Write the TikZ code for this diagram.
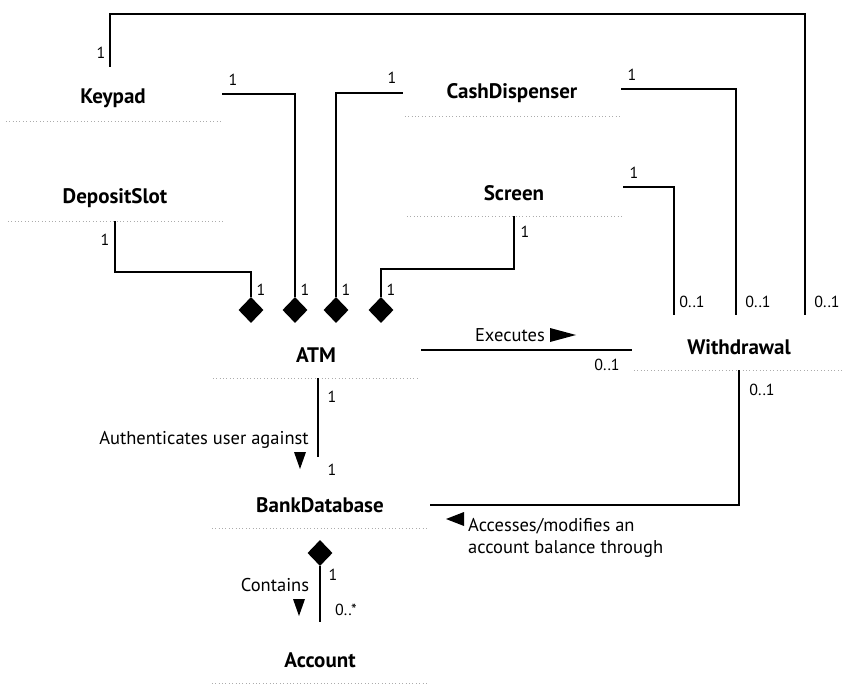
\documentclass[tikz,border=0pt]{standalone}
\usepackage{fontspec}
\setmainfont{PT Sans}
\usetikzlibrary{shapes.geometric,calc}
\begin{document}
\begin{tikzpicture}[x=1pt,y=-1pt,
  classbox/.style={minimum width=218pt, minimum height=46pt, inner sep=0pt,
    font=\fontsize{21}{24}\selectfont\bfseries},
  conn/.style={line width=2.4pt},
  mult/.style={font=\fontsize{16}{18}\selectfont, inner sep=1pt},
  assoc/.style={font=\fontsize{18.5}{22}\selectfont, inner sep=1pt},
  compo/.style={diamond, fill=black, minimum width=25pt, minimum height=26pt, inner sep=0pt},
  boxedge/.style={gray!65, line width=0.8pt, dash pattern=on 0.8pt off 2.6pt},
  navtip/.style={fill=black},
]
\useasboundingbox (0,0) rectangle (844,698);

% class boxes (name compartment only; bottom edge drawn faintly)
\node[classbox] (keypad)      at (113,98)  {Keypad};
\node[classbox] (depositslot) at (115,198) {DepositSlot};
\node[classbox] (cash)        at (512,93)  {CashDispenser};
\node[classbox] (screen)      at (514,193) {Screen};
\node[classbox, minimum width=210pt] (atm) at (316,355) {ATM};
\node[classbox, minimum width=214pt] (withdrawal) at (739,347) {Withdrawal};
\node[classbox, minimum width=220pt] (bankdb) at (320,505) {BankDatabase};
\node[classbox, minimum width=220pt] (account) at (320,660) {Account};

\foreach \c in {keypad,depositslot,cash,screen,atm,withdrawal,bankdb,account}
  \draw[boxedge] ([xshift=2pt]\c.south west) -- ([xshift=-2pt]\c.south east);

% composition diamonds on the ATM side
\node[compo] (d1) at (251,310) {};
\node[compo] (d2) at (295,310) {};
\node[compo] (d3) at (336,310) {};
\node[compo] (d4) at (381,310) {};
% composition diamond on the BankDatabase side
\node[compo] (d5) at (320,553) {};

% association ends on top of Withdrawal
\coordinate (wA) at ($(withdrawal.north west)+(42,-9)$);
\coordinate (wB) at ($(withdrawal.north west)+(104,-9)$);
\coordinate (wC) at ($(withdrawal.north west)+(173,-9)$);

% ATM parts
\draw[conn] ([yshift=4pt]keypad.east) -| (d2.north);
\draw[conn] (cash.west) -| (d3.north);
\draw[conn] (depositslot.south) |- ($(d1.north)+(0,-25)$) -- (d1.north);
\draw[conn] (screen.south) |- ($(d4.north)+(0,-28)$) -- (d4.north);

% Withdrawal associations
\draw[conn] ([xshift=-3pt,yshift=8pt]keypad.north) -- ++(0,-53) -| (wC);
\draw[conn] ([yshift=4pt]cash.east) -| (wB);
\draw[conn] ([yshift=6pt]screen.east) -| (wA);
\draw[conn] ([yshift=5pt]atm.east) -- ([yshift=5pt]atm.east -| withdrawal.west);
\draw[conn] (withdrawal.south) |- (bankdb.east);

% ATM -- BankDatabase -- Account
\draw[conn] ([xshift=2pt]atm.south) -- ([xshift=-2pt,yshift=25pt]bankdb.north);
\draw[conn] (d5.south) -- ([yshift=15pt]account.north);

% multiplicities
\node[mult] (m1)  at (101,53)  {1};
\node[mult] (m2)  at (233,80)  {1};
\node[mult] (m3)  at (392,78)  {1};
\node[mult] (m4)  at (632,75)  {1};
\node[mult] (m5)  at (105,240) {1};
\node[mult] (m6)  at (525,232) {1};
\node[mult] (m7)  at (634,173) {1};
\node[mult] (m8)  at (261,290) {1};
\node[mult] (m9)  at (305,290) {1};
\node[mult] (m10) at (346,290) {1};
\node[mult] (m11) at (391,290) {1};
\node[mult] (m12) at (692,302) {0..1};
\node[mult] (m13) at (758,302) {0..1};
\node[mult] (m14) at (827,302) {0..1};
\node[mult] (m15) at (607,365) {0..1};
\node[mult] (m16) at (762,390) {0..1};
\node[mult] (m17) at (332,397) {1};
\node[mult] (m18) at (332,470) {1};
\node[mult] (m19) at (333,575) {1};
\node[mult] (m20) at (346,610) {0..*};

% association names with navigation triangles
\node[assoc, anchor=east] (exec) at (546,335) {Executes};
\fill[navtip] ($(exec.east)+(4,-7)$) -- ++(26,7) -- ++(-26,7) -- cycle;

\node[assoc] (auth) at (204,440) {Authenticates user against};
\fill[navtip] (294,452) -- ++(12,0) -- ++(-6,17) -- cycle;

\node[assoc, anchor=north west, align=left] (acc) at (467,517)
  {Accesses/modifies an\\account balance through};
\fill[navtip] ($(acc.north west)+(-3,-5)$) -- ++(-18,7) -- ++(18,7) -- cycle;

\node[assoc] (cont) at (275,585) {Contains};
\fill[navtip] (293,599) -- ++(12,0) -- ++(-6,17) -- cycle;
\end{tikzpicture}
\end{document}
